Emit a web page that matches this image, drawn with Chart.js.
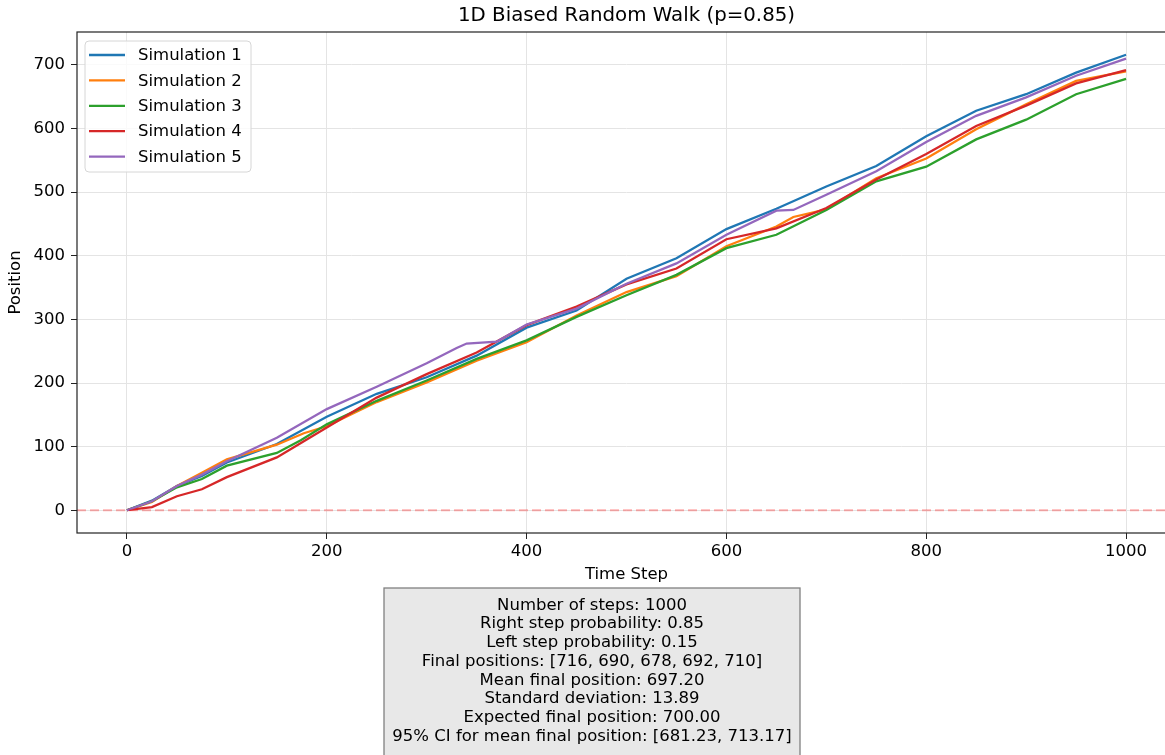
<!DOCTYPE html>
<html>
<head>
<meta charset="utf-8">
<script src="https://cdn.jsdelivr.net/npm/chart.js@4.4.1/dist/chart.umd.min.js"></script>
<style>
  html, body { margin: 0; padding: 0; background: #fff; overflow: hidden; }
</style>
</head>
<body>
<canvas id="walk" width="1190" height="755"></canvas>
<script>
// positions at the listed time steps
const steps1 = [0, 25, 50, 75, 100, 150, 200, 250, 300, 350, 400, 450, 500, 550, 600, 650, 700, 750, 800, 850, 900, 950, 1000];
const pos1 = [0, 15, 38, 54, 75, 104, 147, 183, 209, 243, 287, 314, 364, 396, 442, 474, 509, 541, 588, 628, 654, 688, 716];
const steps2 = [0, 25, 50, 75, 100, 150, 177, 200, 250, 300, 350, 400, 450, 500, 550, 600, 650, 667, 700, 750, 800, 850, 900, 950, 1000];
const pos2 = [0, 13, 38, 59, 80, 103, 121, 132, 170, 201, 235, 264, 306, 343, 368, 415, 446, 461, 473, 522, 553, 599, 638, 675, 690];
const steps3 = [0, 25, 50, 75, 100, 150, 174, 200, 250, 300, 350, 400, 450, 500, 550, 600, 650, 700, 750, 800, 850, 900, 950, 1000];
const pos3 = [0, 14, 36, 49, 70, 90, 110, 135, 172, 204, 238, 267, 304, 338, 370, 412, 433, 472, 517, 540, 583, 614, 654, 678];
const steps4 = [0, 25, 50, 75, 100, 150, 200, 250, 300, 350, 400, 450, 500, 550, 600, 650, 700, 750, 800, 850, 900, 950, 1000];
const pos4 = [0, 5, 22, 33, 52, 83, 130, 177, 214, 248, 291, 320, 355, 380, 426, 443, 475, 520, 560, 604, 636, 671, 692];
const steps5 = [0, 25, 50, 75, 100, 150, 200, 250, 300, 330, 340, 370, 400, 450, 500, 550, 600, 650, 667, 700, 750, 800, 850, 900, 950, 1000];
const pos5 = [0, 14, 38, 56, 77, 114, 159, 194, 231, 255, 262, 265, 292, 317, 356, 388, 433, 471, 472, 496, 533, 579, 620, 649, 683, 710];
const simLabels = ['Simulation 1', 'Simulation 2', 'Simulation 3', 'Simulation 4', 'Simulation 5'];
const simColors = ['#1f77b4', '#ff7f0e', '#2ca02c', '#d62728', '#9467bd'];
const baseline = 0;
const xTicks = [0, 200, 400, 600, 800, 1000];
const yTicks = [0, 100, 200, 300, 400, 500, 600, 700];
const statsLines = [
  'Number of steps: 1000',
  'Right step probability: 0.85',
  'Left step probability: 0.15',
  'Final positions: [716, 690, 678, 692, 710]',
  'Mean final position: 697.20',
  'Standard deviation: 13.89',
  'Expected final position: 700.00',
  '95% CI for mean final position: [681.23, 713.17]'
];

const FONT = "'DejaVu Sans', sans-serif";
const allSteps = [steps1, steps2, steps3, steps4, steps5];
const allPos = [pos1, pos2, pos3, pos4, pos5];

const datasets = allPos.map((vals, i) => ({
  label: simLabels[i],
  data: vals.map((v, j) => ({ x: allSteps[i][j], y: v })),
  borderColor: simColors[i],
  borderWidth: 2.3,
  pointRadius: 0,
  tension: 0,
  order: allPos.length - i
}));
datasets.push({
  label: 'baseline',
  data: [{ x: -50, y: baseline }, { x: 1050, y: baseline }],
  borderColor: 'rgba(255,0,0,0.3)',
  borderDash: [9, 4],
  borderWidth: 1.8,
  pointRadius: 0,
  order: -1
});

// title, axis labels, frame, legend and stats box drawn matplotlib-style
const decor = {
  id: 'decor',
  afterDatasetsDraw(chart) {
    const ctx = chart.ctx;
    const a = chart.chartArea;
    ctx.save();
    ctx.strokeStyle = '#222';
    ctx.lineWidth = 1.2;
    ctx.strokeRect(a.left, a.top, a.right - a.left, a.bottom - a.top);
    ctx.restore();
  },
  afterDraw(chart) {
    const ctx = chart.ctx;
    const a = chart.chartArea;
    const cx = (a.left + a.right) / 2;
    ctx.save();
    ctx.fillStyle = '#000';
    ctx.textAlign = 'center';
    ctx.textBaseline = 'middle';
    ctx.font = '19.8px ' + FONT;
    ctx.fillText('1D Biased Random Walk (p=0.85)', cx, 16);
    ctx.font = '16.5px ' + FONT;
    ctx.fillText('Time Step', cx, 575);
    ctx.save();
    ctx.translate(16, (a.top + a.bottom) / 2);
    ctx.rotate(-Math.PI / 2);
    ctx.fillText('Position', 0, 0);
    ctx.restore();

    // legend
    const lx = 85, ly = 41, lw = 166, lh = 131;
    ctx.beginPath();
    ctx.roundRect(lx, ly, lw, lh, 4);
    ctx.fillStyle = 'rgba(255,255,255,0.8)';
    ctx.fill();
    ctx.strokeStyle = '#d6d6d6';
    ctx.lineWidth = 1;
    ctx.stroke();
    ctx.textAlign = 'left';
    ctx.font = '16.5px ' + FONT;
    simLabels.forEach((lab, i) => {
      const y = 55 + i * 25.4;
      ctx.strokeStyle = simColors[i];
      ctx.lineWidth = 2.3;
      ctx.beginPath();
      ctx.moveTo(89, y);
      ctx.lineTo(125, y);
      ctx.stroke();
      ctx.fillStyle = '#000';
      ctx.fillText(lab, 138, y + 1);
    });

    // stats box
    ctx.fillStyle = 'rgb(232,232,232)';
    ctx.fillRect(384, 588, 416, 180);
    ctx.strokeStyle = 'rgb(128,128,128)';
    ctx.lineWidth = 1.3;
    ctx.strokeRect(384, 588, 416, 180);
    ctx.fillStyle = '#000';
    ctx.textAlign = 'center';
    ctx.font = '16.5px ' + FONT;
    statsLines.forEach((t, i) => ctx.fillText(t, 592, 605.5 + i * 18.7));
    ctx.restore();
  }
};

new Chart(document.getElementById('walk'), {
  type: 'line',
  data: { datasets },
  options: {
    responsive: false,
    animation: false,
    devicePixelRatio: 1,
    layout: { padding: { left: 0, top: 32, right: 14, bottom: 182 } },
    plugins: { legend: { display: false }, title: { display: false }, tooltip: { enabled: false } },
    scales: {
      x: {
        type: 'linear',
        min: -50,
        max: 1050,
        afterBuildTicks: s => { s.ticks = xTicks.map(v => ({ value: v })); },
        afterFit: s => { s.height = 40; },
        grid: { color: '#e4e4e4', lineWidth: 1, tickLength: 6, tickColor: '#222' },
        border: { display: false },
        ticks: { color: '#000', font: { family: FONT, size: 16.5 }, padding: 3, maxRotation: 0, callback: v => String(v) }
      },
      y: {
        type: 'linear',
        min: -35.8,
        max: 751.8,
        afterBuildTicks: s => { s.ticks = yTicks.map(v => ({ value: v })); },
        afterFit: s => { s.width = 77; },
        grid: { color: '#e4e4e4', lineWidth: 1, tickLength: 6, tickColor: '#222' },
        border: { display: false },
        ticks: { color: '#000', font: { family: FONT, size: 16.5 }, padding: 6, callback: v => String(v) }
      }
    }
  },
  plugins: [decor]
});
</script>
</body>
</html>
